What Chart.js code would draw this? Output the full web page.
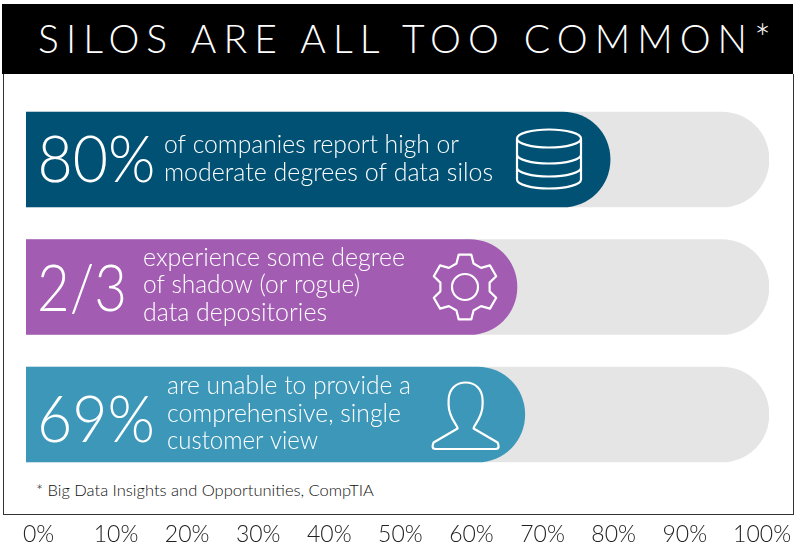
<!DOCTYPE html>
<html>
<head>
<meta charset="utf-8">
<style>
  body { margin: 0; background: #fff; width: 796px; height: 550px; overflow: hidden; position: relative; font-family: Lato, sans-serif; }
  #band { position: absolute; left: 2px; top: 4px; width: 791px; height: 70px; background: #000; color: #fff; }
  #band span { position: absolute; left: 36px; top: 10px; font-weight: 300; font-size: 39px; line-height: 48px; letter-spacing: 7.1px; white-space: nowrap; }
  #frame { position: absolute; left: 3px; top: 74px; width: 789px; height: 440px; border: 1px solid #333; border-top: 0; }
  #note { position: absolute; left: 36px; top: 480px; font-weight: 300; font-size: 16.5px; line-height: 20px; color: #111; white-space: nowrap; }
  canvas { position: absolute; left: 0; top: 0; }
</style>
</head>
<body>
<div id="frame"></div>
<div id="band"><span>SILOS ARE ALL TOO COMMON*</span></div>
<div id="note">* Big Data Insights and Opportunities, CompTIA</div>
<canvas id="myChart" width="796" height="550"></canvas>
<script src="https://cdn.jsdelivr.net/npm/chart.js@4"></script>
<script>
const AXIS_MIN = -2.66
const AXIS_MAX = 101.85

const rows = [
    { label: 'data silos', value: 79.5, color: '#005174', big: '80%', bigX: 37.5, bigW: 118, textX: 164, bigY: 22, textY: [-7, 21],
      lines: ['of companies report high or', 'moderate degrees of data silos'], lineW: [295, 329], icon: 'db', iconX: 549 },
    { label: 'shadow data', value: 66.4, color: '#a25cb2', big: '2/3', bigX: 37, bigW: 90, textX: 143, bigY: 24, textY: [-21, 6, 34],
      lines: ['experience some degree', 'of shadow (or rogue)', 'data depositories'], lineW: [262, 217, 184], icon: 'gear', iconX: 465 },
    { label: 'customer view', value: 67.5, color: '#3c97b8', big: '69%', bigX: 37, bigW: 118, textX: 167, bigY: 27, textY: [-21, 7, 34],
      lines: ['are unable to provide a', 'comprehensive, single', 'customer view'], lineW: [244, 234, 151], icon: 'person', iconX: 465.6 },
]

// icons are drawn around (0,0) = centre of the bar height at iconX
const icons = {
    db: new Path2D('M-32 -21A32 9 0 0 1 32 -21A32 9 0 0 1 -32 -21ZM-32 -21V20A32 9 0 0 0 32 20V-21M-32 -5A32 9 0 0 0 32 -5M-32 8A32 9 0 0 0 32 8'),
    person: new Path2D('M-8 14C-8 10 -17 4 -17 -10V-14C-17 -26 -9 -32 0 -32C9 -32 17 -26 17 -14V-10C17 4 8 10 8 14L32 28Q33 30 33 32Q33 34.5 30 34.5H-30Q-33 34.5 -33 32Q-33 30 -32 28Z'),
}

function drawGear(ctx) {
    const rad = d => d * Math.PI / 180
    ctx.beginPath()
    for (let k = 0; k < 6; k++) {
        const a = -90 + k * 60
        const pts = [[25, a - 20], [33, a - 11], [33, a + 11], [25, a + 20]]
        pts.forEach((p, i) => {
            const x = p[0] * Math.cos(rad(p[1]))
            const y = p[0] * Math.sin(rad(p[1]))
            if (i === 0 && k === 0) ctx.moveTo(x, y)
            else ctx.lineTo(x, y)
        })
    }
    ctx.closePath()
    ctx.moveTo(13, 0)
    ctx.arc(0, 0, 13, 0, Math.PI * 2)
    ctx.stroke()
}

const barText = {
    id: 'barText',
    afterDatasetsDraw(chart) {
        const ctx = chart.ctx
        const yScale = chart.scales.y
        rows.forEach((row, i) => {
            const cy = yScale.getPixelForValue(i)
            ctx.save()
            ctx.fillStyle = '#fff'
            ctx.textBaseline = 'alphabetic'
            ctx.font = '300 66px Lato'
            ctx.fillText(row.big, row.bigX, cy + row.bigY, row.bigW)
            ctx.font = '300 25px Lato'
            row.lines.forEach((line, j) => ctx.fillText(line, row.textX, cy + row.textY[j], row.lineW[j]))
            ctx.translate(row.iconX, cy)
            ctx.strokeStyle = '#fff'
            ctx.lineWidth = 2.2
            ctx.lineJoin = 'round'
            if (row.icon === 'gear') drawGear(ctx)
            else ctx.stroke(icons[row.icon])
            ctx.restore()
        })
    }
}

const data = {
    labels: rows.map(r => r.label),
    datasets: [
        {
            label: 'value',
            data: rows.map(r => [AXIS_MIN, r.value]),
            backgroundColor: rows.map(r => r.color),
            order: 1,
        },
        {
            label: 'total',
            data: rows.map(() => [AXIS_MIN, AXIS_MAX]),
            backgroundColor: '#e5e5e5',
            order: 2,
        },
    ],
}
data.datasets.forEach(d => {
    d.grouped = false
    d.barThickness = 95
    d.borderSkipped = false
    d.borderRadius = { topLeft: 0, bottomLeft: 0, topRight: 47.5, bottomRight: 47.5 }
})

const config = {
    type: 'bar',
    data: data,
    plugins: [barText],
    options: {
        indexAxis: 'y',
        responsive: false,
        animation: false,
        devicePixelRatio: 1,
        layout: { padding: { left: 26, right: 27, top: 95.75, bottom: 1.1 } },
        plugins: { legend: { display: false }, tooltip: { enabled: false } },
        scales: {
            x: {
                min: AXIS_MIN,
                max: AXIS_MAX,
                afterBuildTicks: axis => {
                    axis.ticks = []
                    for (let v = 0; v <= 100; v += 10) axis.ticks.push({ value: v })
                },
                // the labels don't sit on the plot edges, so no room is needed for them
                afterFit: axis => {
                    axis.paddingLeft = 0
                    axis.paddingRight = 0
                    axis.height = 70.65
                },
                grid: { display: false, drawTicks: false },
                border: { display: false },
                ticks: {
                    padding: 43,
                    maxRotation: 0,
                    autoSkip: false,
                    color: '#222',
                    font: { family: 'Lato', size: 23, weight: '300' },
                    // the end labels sit further out than the even spacing, spaces push them
                    callback: v => v === 0 ? '0%  ' : v === 100 ? '  100%' : v + '%',
                },
            },
            y: { display: false },
        },
    },
}

const myChart = new Chart(document.getElementById('myChart'), config)
</script>
</body>
</html>
